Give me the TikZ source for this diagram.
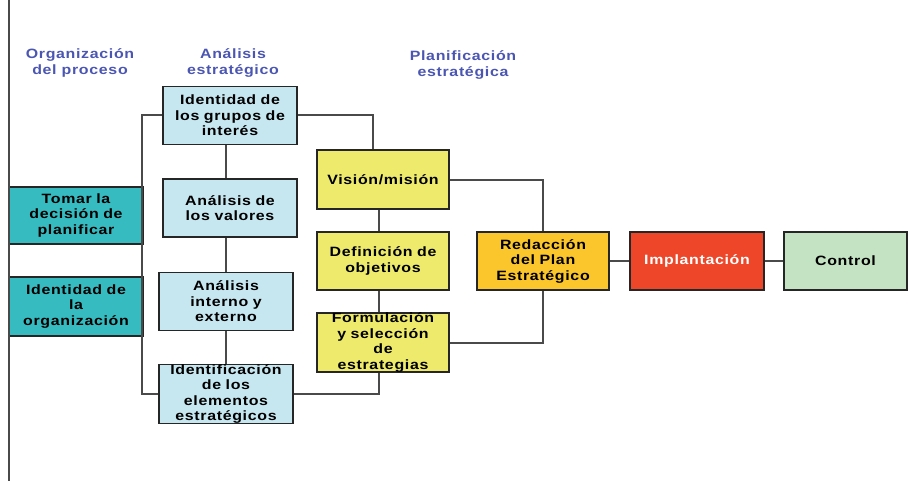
\documentclass[tikz,border=0pt]{standalone}
\usepackage{fontspec}
\setmainfont[FakeStretch=1.18, LetterSpace=5]{Liberation Sans}
\usepackage{xcolor}
\usepackage{tikz}

\definecolor{tealbox}{HTML}{36BCC0}
\definecolor{bluebox}{HTML}{C6E6F0}
\definecolor{yellowbox}{HTML}{EDEA6C}
\definecolor{orangebox}{HTML}{FAC62C}
\definecolor{redbox}{HTML}{EE4629}
\definecolor{greenbox}{HTML}{C4E3C2}
\definecolor{headblue}{HTML}{4B56B2}
\definecolor{linegray}{HTML}{4A4A4A}

\begin{document}
\begin{tikzpicture}[
    x=1pt, y=-1pt,
    box/.style={rectangle, draw=black!85, line width=1.5pt, minimum width=134pt, minimum height=58pt,
        text width=130pt, align=center, inner sep=0pt, font=\fontsize{13.5}{15.5}\selectfont\bfseries},
    head/.style={align=center, text=headblue, font=\fontsize{13.5}{16}\selectfont\bfseries},
    link/.style={draw=linegray, line width=2pt}
]
    \useasboundingbox (0,0) rectangle (909,481);

    % headings
    \node[head] (hdorg) at (80,63) {Organización\\del proceso};
    \node[head] (hdana) at (233,63) {Análisis\\estratégico};
    \node[head] (hdplan) at (463,65) {Planificación\\estratégica};

    % left column
    \node[box, fill=tealbox, minimum width=135pt, minimum height=57pt] (tomar) at (76,215.5) {Tomar la\\decisión de\\planificar};
    \node[box, fill=tealbox, minimum width=135pt, minimum height=59pt] (idorg) at (76,306.5) {Identidad de\\la\\organización};

    % analysis column
    \node[box, fill=bluebox] (grupos) at (230,115.5) {Identidad de\\los grupos de\\interés};
    \node[box, fill=bluebox] (valores) at (230,208) {Análisis de\\los valores};
    \node[box, fill=bluebox] (interno) at (226,301.5) {Análisis\\interno y\\externo};
    \node[box, fill=bluebox] (elementos) at (226,394) {Identificación\\de los\\elementos\\estratégicos};

    % planning column
    \node[box, fill=yellowbox, minimum width=132pt, minimum height=59pt] (vision) at (383,179.5) {Visión/misión};
    \node[box, fill=yellowbox, minimum width=132pt] (objetivos) at (383,261) {Definición de\\objetivos};
    \node[box, fill=yellowbox, minimum width=132pt, minimum height=59pt] (formulacion) at (383,342.5) {Formulación\\y selección\\de\\estrategias};

    % final steps
    \node[box, fill=orangebox, minimum width=132pt] (redaccion) at (543,261) {Redacción\\del Plan\\Estratégico};
    \node[box, fill=redbox, text=white] (implantacion) at (697,261) {Implantación};
    \node[box, fill=greenbox, minimum width=123pt, text width=115pt] (control) at (845.5,261) {Control};

    % left rule
    \draw[linegray, line width=2pt] (9,0) -- (9,481);

    % connectors
    \draw[link] (grupos.west) -- ++(-20,0) |- (elementos.west);
    \draw[link] ([xshift=-4pt]grupos.south) -- ([xshift=-4pt]valores.north);
    \draw[link] ([xshift=-4pt]valores.south) -- (interno.north);
    \draw[link] (interno.south) -- (elementos.north);
    \draw[link] (grupos.east) -| ([xshift=-10pt]vision.north);
    \draw[link] (elementos.east) -| ([xshift=-4pt]formulacion.south);
    \draw[link] ([xshift=-4pt]vision.south) -- ([xshift=-4pt]objetivos.north);
    \draw[link] ([xshift=-4pt]objetivos.south) -- ([xshift=-4pt]formulacion.north);
    \draw[link] (vision.east) -| (redaccion.north);
    \draw[link] (formulacion.east) -| (redaccion.south);
    \draw[link] (redaccion) -- (implantacion);
    \draw[link] (implantacion) -- (control);
\end{tikzpicture}
\end{document}
